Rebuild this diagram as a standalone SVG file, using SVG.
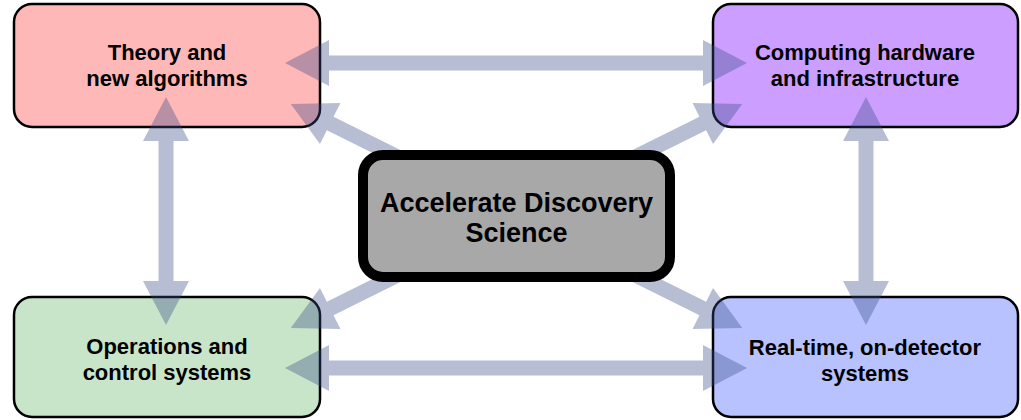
<svg xmlns="http://www.w3.org/2000/svg" xmlns:xlink="http://www.w3.org/1999/xlink" width="1021" height="420" viewBox="0 0 1021 420">
  <style>
    .box { stroke: #000; stroke-width: 2.5; }
    .lbl { font-family: "Liberation Sans", Arial, Helvetica, sans-serif; font-weight: bold; font-size: 22px; fill: #000; text-anchor: middle; }
    .big { font-size: 27px; }
    .arr { fill: #384c86; fill-opacity: 0.36; stroke: none; }
  </style>
  <defs>
    <path id="diag" d="M0,-7.5 H208 V-23 L252,0 L208,23 V7.5 H0 Z"/>
  </defs>
  <rect width="1021" height="420" fill="#fff"/>

  <g id="theory">
    <rect class="box" x="14" y="4" width="306" height="123" rx="18" fill="#ffb8b8"/>
    <text class="lbl" x="167" y="60">Theory and</text>
    <text class="lbl" x="167" y="86">new algorithms</text>
  </g>
  <g id="computing">
    <rect class="box" x="713" y="4" width="305" height="123" rx="18" fill="#cc9eff"/>
    <text class="lbl" x="865" y="60">Computing hardware</text>
    <text class="lbl" x="865" y="86">and infrastructure</text>
  </g>
  <g id="operations">
    <rect class="box" x="14" y="297" width="306" height="120" rx="18" fill="#c9e5c9"/>
    <text class="lbl" x="167" y="354">Operations and</text>
    <text class="lbl" x="167" y="380">control systems</text>
  </g>
  <g id="realtime">
    <rect class="box" x="713" y="297" width="305" height="120" rx="18" fill="#b8c2ff"/>
    <text class="lbl" x="865" y="355">Real-time, on-detector</text>
    <text class="lbl" x="865" y="381">systems</text>
  </g>

  <g id="connectors">
    <polygon class="arr" points="285,63 329,40 329,55.5 703,55.5 703,40 747,63 703,86 703,70.5 329,70.5 329,86"/>
    <polygon class="arr" points="285,368 329,345 329,360.5 703,360.5 703,345 747,368 703,391 703,375.5 329,375.5 329,391"/>
    <polygon class="arr" points="166,97 189,141 173.5,141 173.5,281 189,281 166,325 143,281 158.5,281 158.5,141 143,141"/>
    <polygon class="arr" points="866,97 889,141 873.5,141 873.5,281 889,281 866,325 843,281 858.5,281 858.5,141 843,141"/>
    <use class="arr" xlink:href="#diag" href="#diag" transform="translate(516.5,216) rotate(206.4)"/>
    <use class="arr" xlink:href="#diag" href="#diag" transform="translate(516.5,216) rotate(-26.4)"/>
    <use class="arr" xlink:href="#diag" href="#diag" transform="translate(516.5,216) rotate(153.6)"/>
    <use class="arr" xlink:href="#diag" href="#diag" transform="translate(516.5,216) rotate(26.4)"/>
  </g>

  <g id="accelerate">
    <rect x="363" y="155" width="307" height="122" rx="20" fill="#a8a8a8" stroke="#000" stroke-width="10"/>
    <text class="lbl big" x="516.5" y="212">Accelerate Discovery</text>
    <text class="lbl big" x="516.5" y="242">Science</text>
  </g>
</svg>
